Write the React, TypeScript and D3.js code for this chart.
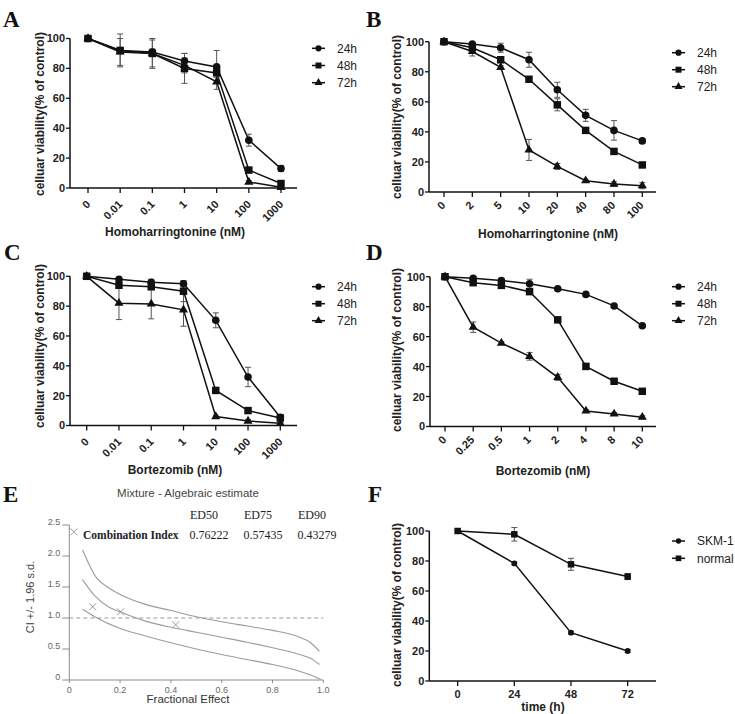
import React, { useEffect, useRef } from "react";
import * as d3 from "d3";

const SANS = "'Liberation Sans', Arial, sans-serif";
const SERIF = "'Liberation Serif', 'Times New Roman', serif";

// A: homoharringtonine, log-spaced doses (nM)
const hhtLogDoses = ["0", "0.01", "0.1", "1", "10", "100", "1000"];
const hhtLog24h = [100, 92, 91, 85, 81, 32, 13];
const hhtLog48h = [100, 92, 90, 80, 77, 12, 3];
const hhtLog72h = [100, 91, 90, 82, 71, 4, 0.5];
const hhtLog24hSd = [0, 2, 2, 5, 11, 4, 2];
const hhtLog48hSd = [0, 11, 10, 10, 3, 1, 1];
const hhtLog72hSd = [0, 9, 9, 5, 5, 1, 0.5];

// B: homoharringtonine, narrow dose range (nM)
const hhtDoses = ["0", "2", "5", "10", "20", "40", "80", "100"];
const hht24h = [100, 98.5, 96, 88, 68, 51, 41, 34];
const hht48h = [100, 96, 88, 75, 58, 41, 27, 18];
const hht72h = [100, 93.5, 83, 28, 17, 7.5, 5.3, 4.2];
const hht24hSd = [0, 1, 3, 5, 5, 4, 6.5, 1.5];
const hht48hSd = [0, 2, 2, 1, 4, 1, 1, 1];
const hht72hSd = [0, 3, 1, 7, 2, 1, 1.5, 2];

// C: bortezomib, log-spaced doses (nM)
const bzLogDoses = ["0", "0.01", "0.1", "1", "10", "100", "1000"];
const bzLog24h = [100, 98, 96, 95, 70.5, 32.5, 5.5];
const bzLog48h = [100, 94, 93, 90, 23.5, 10, 5];
const bzLog72h = [100, 82, 81.5, 77.5, 6, 3, 1.5];
const bzLog24hSd = [0, 1, 2, 2, 5, 6.5, 1.5];
const bzLog48hSd = [0, 2, 2, 7, 1, 1, 1];
const bzLog72hSd = [0, 11, 10, 11, 1, 1, 0.5];

// D: bortezomib, narrow dose range (nM)
const bzDoses = ["0", "0.25", "0.5", "1", "2", "4", "8", "10"];
const bz24h = [100, 99, 97.5, 95.3, 92, 88.2, 80.5, 67.2];
const bz48h = [100, 96, 94.2, 90, 71.2, 40.1, 30.2, 23.5];
const bz72h = [100, 66.3, 55.7, 46.8, 32.8, 10.4, 8.4, 6.2];
const bz24hSd = [0, 1, 1.5, 3, 1, 1, 1, 1];
const bz48hSd = [0, 1, 1, 1, 1, 2, 1, 1.5];
const bz72hSd = [0, 3.5, 1, 2.5, 2, 1, 1, 1];

// E: combination index vs fractional effect (CompuSyn output)
const faTicks = [0, 0.2, 0.4, 0.6, 0.8, 1.0];
const ciTicks = [0, 0.5, 1.0, 1.5, 2.0, 2.5];
const ciUpperFa = [0.052, 0.105, 0.15, 0.2, 0.3, 0.4, 0.5, 0.6, 0.7, 0.8, 0.9, 0.95, 0.985];
const ciUpper = [2.1, 1.66, 1.5, 1.38, 1.22, 1.12, 1.02, 0.94, 0.87, 0.8, 0.7, 0.6, 0.46];
const ciMidFa = [0.052, 0.1, 0.15, 0.2, 0.3, 0.4, 0.5, 0.6, 0.7, 0.8, 0.9, 0.95, 0.985];
const ciMid = [1.62, 1.36, 1.19, 1.1, 0.95, 0.85, 0.77, 0.69, 0.61, 0.52, 0.42, 0.35, 0.25];
const ciLowerFa = [0.052, 0.1, 0.2, 0.3, 0.4, 0.5, 0.6, 0.7, 0.8, 0.9, 0.95, 0.99];
const ciLower = [1.14, 1.02, 0.83, 0.71, 0.6, 0.5, 0.41, 0.33, 0.25, 0.15, 0.08, 0.01];
const ciPointFa = [0.018, 0.092, 0.202, 0.419];
const ciPoint = [2.39, 1.18, 1.1, 0.89];
const edLabels = ["ED50", "ED75", "ED90"];
const edValues = ["0.76222", "0.57435", "0.43279"];

// F: time course
const hours = [0, 24, 48, 72];
const skm1 = [100, 78.4, 32.2, 20];
const normal = [100, 97.8, 77.8, 69.6];
const skm1Sd = [0, 1, 1, 1];
const normalSd = [0, 4.5, 4, 2];

const timeLabels = ["24h", "48h", "72h"];

const shapes = {
  circle: d3.symbolCircle,
  square: d3.symbolSquare,
  triangle: d3.symbolTriangle,
};
const markSize = { circle: 45, square: 56, triangle: 36 };
const legendSize = { circle: 30, square: 36, triangle: 28 };

function drawViability(svg, p) {
  const g = svg.append("g");
  const y = d3.scaleLinear().domain([0, 100]).range([p.y0, p.y100]);
  const x = p.cats
    ? d3.scalePoint().domain(p.cats).range([p.xFirst, p.xLast])
    : d3.scaleLinear().domain(p.xDomain).range([p.axisX, p.axisEnd]);
  const xs = p.cats ? p.cats : p.xValues;

  // axes
  g.append("line")
    .attr("x1", p.axisX).attr("x2", p.axisX)
    .attr("y1", y(100)).attr("y2", y(0))
    .attr("stroke", "#111").attr("stroke-width", 1.5);
  g.append("line")
    .attr("x1", p.axisX).attr("x2", p.axisEnd)
    .attr("y1", y(0)).attr("y2", y(0))
    .attr("stroke", "#111").attr("stroke-width", 1.5);

  const yt = g.selectAll(".yt").data([0, 20, 40, 60, 80, 100]).enter().append("g");
  yt.append("line")
    .attr("x1", p.axisX - 4).attr("x2", p.axisX)
    .attr("y1", (d) => y(d)).attr("y2", (d) => y(d))
    .attr("stroke", "#111").attr("stroke-width", 1.3);
  yt.append("text")
    .attr("x", p.axisX - 5).attr("y", (d) => y(d)).attr("dy", "0.36em")
    .attr("text-anchor", "end")
    .attr("font-family", SANS).attr("font-weight", "bold").attr("font-size", 11)
    .attr("fill", "#222")
    .text((d) => d);

  const xt = g.selectAll(".xt").data(xs).enter().append("g");
  xt.append("line")
    .attr("x1", (d) => x(d)).attr("x2", (d) => x(d))
    .attr("y1", y(0)).attr("y2", y(0) + 5)
    .attr("stroke", "#111").attr("stroke-width", 1.3);
  const xl = xt.append("text")
    .attr("font-family", SANS).attr("font-weight", "bold").attr("font-size", 11)
    .attr("fill", "#222")
    .text((d) => d);
  if (p.cats) {
    xl.attr("text-anchor", "end")
      .attr("transform", (d) => `translate(${x(d) + p.labelShift[0]},${y(0) + p.labelShift[1]}) rotate(-45)`);
  } else {
    xl.attr("text-anchor", "middle").attr("x", (d) => x(d)).attr("y", y(0) + 17);
  }

  // titles
  g.append("text")
    .attr("x", p.xTitle[1]).attr("y", p.xTitle[2])
    .attr("text-anchor", "middle")
    .attr("font-family", SANS).attr("font-weight", "bold").attr("font-size", 12)
    .attr("fill", "#222")
    .text(p.xTitle[0]);
  g.append("text")
    .attr("transform", `translate(${p.yTitle[0]},${p.yTitle[1]}) rotate(-90)`)
    .attr("text-anchor", "middle")
    .attr("font-family", SANS).attr("font-weight", "bold").attr("font-size", 12)
    .attr("fill", "#222")
    .text("celluar viability(% of control)");
  g.append("text")
    .attr("x", p.letter[1]).attr("y", p.letter[2])
    .attr("font-family", SERIF).attr("font-weight", "bold").attr("font-size", 23)
    .attr("fill", "#111")
    .text(p.letter[0]);

  const line = d3.line().x((d) => d[0]).y((d) => d[1]);

  p.series.forEach((s) => {
    const pts = s.values.map((v, i) => [x(xs[i]), y(v)]);
    g.append("path")
      .attr("d", line(pts))
      .attr("fill", "none").attr("stroke", "#111").attr("stroke-width", 1.5);
  });

  p.series.forEach((s) => {
    s.values.forEach((v, i) => {
      const e = s.sd[i];
      if (!e) return;
      const cx = x(xs[i]);
      const eg = g.append("g").attr("stroke", "#555").attr("stroke-width", 1);
      eg.append("line").attr("x1", cx).attr("x2", cx).attr("y1", y(v - e)).attr("y2", y(v + e));
      eg.append("line").attr("x1", cx - 3).attr("x2", cx + 3).attr("y1", y(v + e)).attr("y2", y(v + e));
      eg.append("line").attr("x1", cx - 3).attr("x2", cx + 3).attr("y1", y(v - e)).attr("y2", y(v - e));
    });
  });

  p.series.forEach((s) => {
    const sym = d3.symbol().type(shapes[s.shape]).size(s.size || markSize[s.shape]);
    g.selectAll(null).data(s.values).enter().append("path")
      .attr("d", sym())
      .attr("transform", (v, i) => `translate(${x(xs[i])},${y(v)})`)
      .attr("fill", "#111");
  });

  // legend
  p.series.forEach((s, i) => {
    const ly = p.legend[1] + i * p.legendStep;
    const lx = p.legend[0];
    g.append("line")
      .attr("x1", lx).attr("x2", lx + 13).attr("y1", ly).attr("y2", ly)
      .attr("stroke", "#111").attr("stroke-width", 1.5);
    g.append("path")
      .attr("d", d3.symbol().type(shapes[s.shape]).size(s.legendSize || legendSize[s.shape])())
      .attr("transform", `translate(${lx + 6.5},${ly})`)
      .attr("fill", "#111");
    g.append("text")
      .attr("x", lx + 25).attr("y", ly).attr("dy", "0.36em")
      .attr("font-family", SANS).attr("font-size", 12).attr("fill", "#222")
      .text(s.label);
  });
}

function drawCombination(svg) {
  const g = svg.append("g");
  const x = d3.scaleLinear().domain([0, 1]).range([69.3, 323.3]);
  const y = d3.scaleLinear().domain([0, 2.5]).range([680, 525]);
  const axisColor = "#8c8c8c";

  g.append("text")
    .attr("x", 3).attr("y", 502)
    .attr("font-family", SERIF).attr("font-weight", "bold").attr("font-size", 23)
    .attr("fill", "#111").text("E");
  g.append("text")
    .attr("x", 188).attr("y", 497)
    .attr("text-anchor", "middle")
    .attr("font-family", SANS).attr("font-size", 11.5).attr("fill", "#444")
    .text("Mixture - Algebraic estimate");

  g.append("line")
    .attr("x1", x(0)).attr("x2", x(0)).attr("y1", y(2.5)).attr("y2", y(0))
    .attr("stroke", axisColor);
  g.append("line")
    .attr("x1", x(0)).attr("x2", x(1)).attr("y1", y(0)).attr("y2", y(0))
    .attr("stroke", axisColor);

  ciTicks.forEach((t) => {
    g.append("line")
      .attr("x1", x(0) - 7).attr("x2", x(0)).attr("y1", y(t)).attr("y2", y(t))
      .attr("stroke", axisColor);
    g.append("text")
      .attr("x", x(0) - 9).attr("y", y(t) - 0.5)
      .attr("text-anchor", "end")
      .attr("font-family", SANS).attr("font-size", 9).attr("fill", "#666")
      .text(t === 0 ? "0" : t.toFixed(1));
  });
  faTicks.forEach((t) => {
    g.append("line")
      .attr("x1", x(t)).attr("x2", x(t)).attr("y1", y(0)).attr("y2", y(0) + 3)
      .attr("stroke", axisColor);
    g.append("text")
      .attr("x", x(t)).attr("y", y(0) + 12.5)
      .attr("text-anchor", "middle")
      .attr("font-family", SANS).attr("font-size", 9).attr("fill", "#666")
      .text(t === 0 ? "0" : t.toFixed(1));
  });

  g.append("text")
    .attr("x", 188).attr("y", 703)
    .attr("text-anchor", "middle")
    .attr("font-family", SANS).attr("font-size", 11.5).attr("fill", "#333")
    .text("Fractional Effect");
  g.append("text")
    .attr("transform", `translate(34,597) rotate(-90)`)
    .attr("text-anchor", "middle")
    .attr("font-family", SANS).attr("font-size", 11).attr("fill", "#444")
    .text("CI +/- 1.96 s.d.");

  // additivity reference
  g.append("line")
    .attr("x1", x(0)).attr("x2", x(1)).attr("y1", y(1)).attr("y2", y(1))
    .attr("stroke", "#999").attr("stroke-dasharray", "4,3");

  const curve = d3.line().curve(d3.curveMonotoneX).x((d) => x(d[0])).y((d) => y(d[1]));
  [
    [ciUpperFa, ciUpper],
    [ciMidFa, ciMid],
    [ciLowerFa, ciLower],
  ].forEach(([fa, ci]) => {
    g.append("path")
      .attr("d", curve(fa.map((f, i) => [f, ci[i]])))
      .attr("fill", "none").attr("stroke", "#a6969e").attr("stroke-width", 1.1);
  });

  ciPointFa.forEach((f, i) => {
    const cx = x(f), cy = y(ciPoint[i]);
    g.append("path")
      .attr("d", `M${cx - 3.5},${cy - 3.5}L${cx + 3.5},${cy + 3.5}M${cx - 3.5},${cy + 3.5}L${cx + 3.5},${cy - 3.5}`)
      .attr("stroke", "#9d9d9d").attr("stroke-width", 1);
  });

  const edX = [204, 258, 312];
  edLabels.forEach((lab, i) => {
    g.append("text")
      .attr("x", edX[i]).attr("y", 519)
      .attr("text-anchor", "middle")
      .attr("font-family", SERIF).attr("font-size", 12).attr("fill", "#222")
      .text(lab);
    g.append("text")
      .attr("x", edX[i] + 5).attr("y", 539)
      .attr("text-anchor", "middle")
      .attr("font-family", SERIF).attr("font-size", 12).attr("fill", "#222")
      .text(edValues[i]);
  });
  g.append("text")
    .attr("x", 83).attr("y", 539)
    .attr("font-family", SERIF).attr("font-weight", "bold").attr("font-size", 11.5)
    .attr("fill", "#222")
    .text("Combination Index");
}

function timeSeries(v24, v48, v72, s24, s48, s72) {
  return [
    { label: timeLabels[0], shape: "circle", values: v24, sd: s24 },
    { label: timeLabels[1], shape: "square", values: v48, sd: s48 },
    { label: timeLabels[2], shape: "triangle", values: v72, sd: s72 },
  ];
}

export default function App() {
  const ref = useRef(null);

  useEffect(() => {
    const svg = d3.select(ref.current);
    svg.selectAll("*").remove();

    drawViability(svg, {
      letter: ["A", 3, 27],
      cats: hhtLogDoses, axisX: 70, axisEnd: 297, xFirst: 88, xLast: 281,
      y100: 38.5, y0: 188, labelShift: [3, 17],
      xTitle: ["Homoharringtonine (nM)", 175, 236], yTitle: [44, 114],
      legend: [312, 48.3], legendStep: 17.2,
      series: timeSeries(hhtLog24h, hhtLog48h, hhtLog72h, hhtLog24hSd, hhtLog48hSd, hhtLog72hSd),
    });
    drawViability(svg, {
      letter: ["B", 366, 27],
      cats: hhtDoses, axisX: 429, axisEnd: 656, xFirst: 444, xLast: 642.3,
      y100: 41.7, y0: 192, labelShift: [2, 14],
      xTitle: ["Homoharringtonine (nM)", 548, 238], yTitle: [401, 117],
      legend: [672, 52.7], legendStep: 17,
      series: timeSeries(hht24h, hht48h, hht72h, hht24hSd, hht48hSd, hht72hSd),
    });
    drawViability(svg, {
      letter: ["C", 4, 260],
      cats: bzLogDoses, axisX: 70, axisEnd: 297, xFirst: 86.7, xLast: 280.3,
      y100: 276.3, y0: 425.5, labelShift: [3, 17],
      xTitle: ["Bortezomib (nM)", 175, 474], yTitle: [44, 346],
      legend: [312, 286.7], legendStep: 17,
      series: timeSeries(bzLog24h, bzLog48h, bzLog72h, bzLog24hSd, bzLog48hSd, bzLog72hSd),
    });
    drawViability(svg, {
      letter: ["D", 366, 260],
      cats: bzDoses, axisX: 430, axisEnd: 656, xFirst: 445, xLast: 642.3,
      y100: 276.7, y0: 426.5, labelShift: [2, 14],
      xTitle: ["Bortezomib (nM)", 543, 475], yTitle: [401, 350],
      legend: [672, 286.7], legendStep: 17,
      series: timeSeries(bz24h, bz48h, bz72h, bz24hSd, bz48hSd, bz72hSd),
    });
    drawCombination(svg);
    drawViability(svg, {
      letter: ["F", 368, 502],
      xValues: hours, xDomain: [-12, 84], axisX: 429.3, axisEnd: 656,
      y100: 531, y0: 681,
      xTitle: ["time (h)", 543, 711], yTitle: [401, 605],
      legend: [672, 541], legendStep: 17.3,
      series: [
        { label: "SKM-1", shape: "circle", values: skm1, sd: skm1Sd, size: 26, legendSize: 22 },
        { label: "normal", shape: "square", values: normal, sd: normalSd, size: 42, legendSize: 32 },
      ],
    });
  }, []);

  return (
    <svg
      ref={ref}
      width={735}
      height={714}
      style={{ position: "absolute", left: 0, top: 0, background: "#fff", display: "block" }}
    />
  );
}
